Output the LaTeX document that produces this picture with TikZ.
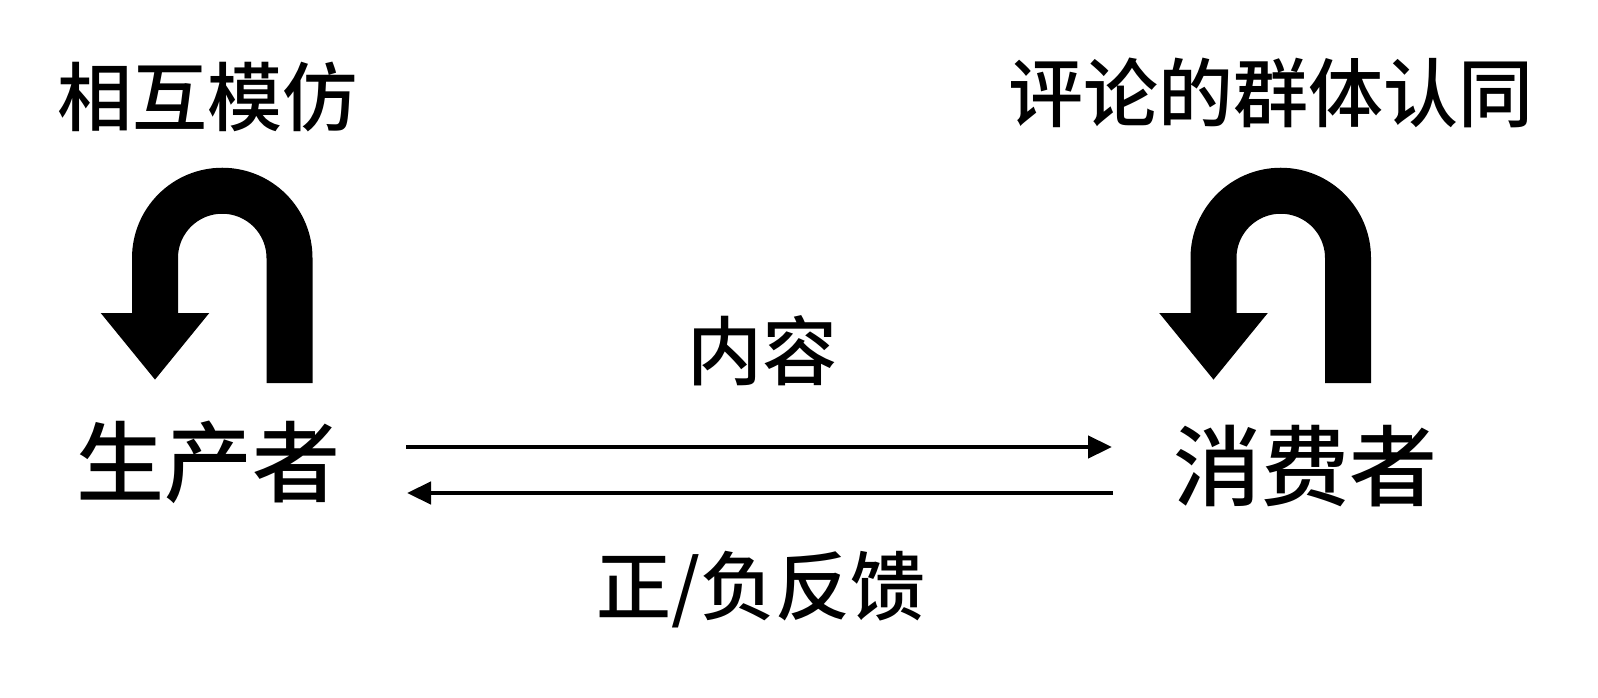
\documentclass[tikz,border=0pt]{standalone}
\usepackage{fontspec}
\newfontfamily\cjk{Noto Sans CJK SC Medium}
\usetikzlibrary{arrows.meta}
\begin{document}
\begin{tikzpicture}[x=1pt,y=-1pt,
  lbl/.style={inner sep=0pt,font=\cjk\fontsize{75}{75}\selectfont},
  actor/.style={inner sep=0pt,font=\cjk\fontsize{88}{88}\selectfont},
  uturn/.style={line width=46pt,line cap=butt,-{Triangle[length=67pt,width=104pt]}},
  flow/.style={line width=4.5pt,-{Triangle[length=24pt,width=22pt]}}]
\useasboundingbox (0,0) rectangle (1598,698);
\fill[white] (0,0) rectangle (1598,698);
% labels
\node[lbl] (imit) at (207,97) {相互模仿};
\node[lbl] (ident) at (1271,93) {评论的群体认同};
\node[actor] (prod) at (208,462) {生产者};
\node[actor] (cons) at (1305,466) {消费者};
\node[lbl] (cont) at (762,351) {内容};
\node[lbl] (fb) at (761,590) {正/负反馈};
% u-turn self loops
\coordinate (p1) at (289.5,383);
\coordinate (p2) at (155,380);
\coordinate (q1) at (1348,383);
\coordinate (q2) at (1213.5,380);
\draw[uturn] (p1) -- (289.5,258) arc[start angle=0,end angle=-180,radius=67.25] -- (p2);
\draw[uturn] (q1) -- (1348,258) arc[start angle=0,end angle=-180,radius=67.25] -- (q2);
% flows
\coordinate (a1) at (406,447);
\coordinate (a2) at (1112,447);
\coordinate (b1) at (1113,493);
\coordinate (b2) at (407,493);
\draw[flow] (a1) -- (a2);
\draw[flow] (b1) -- (b2);
\end{tikzpicture}
\end{document}
